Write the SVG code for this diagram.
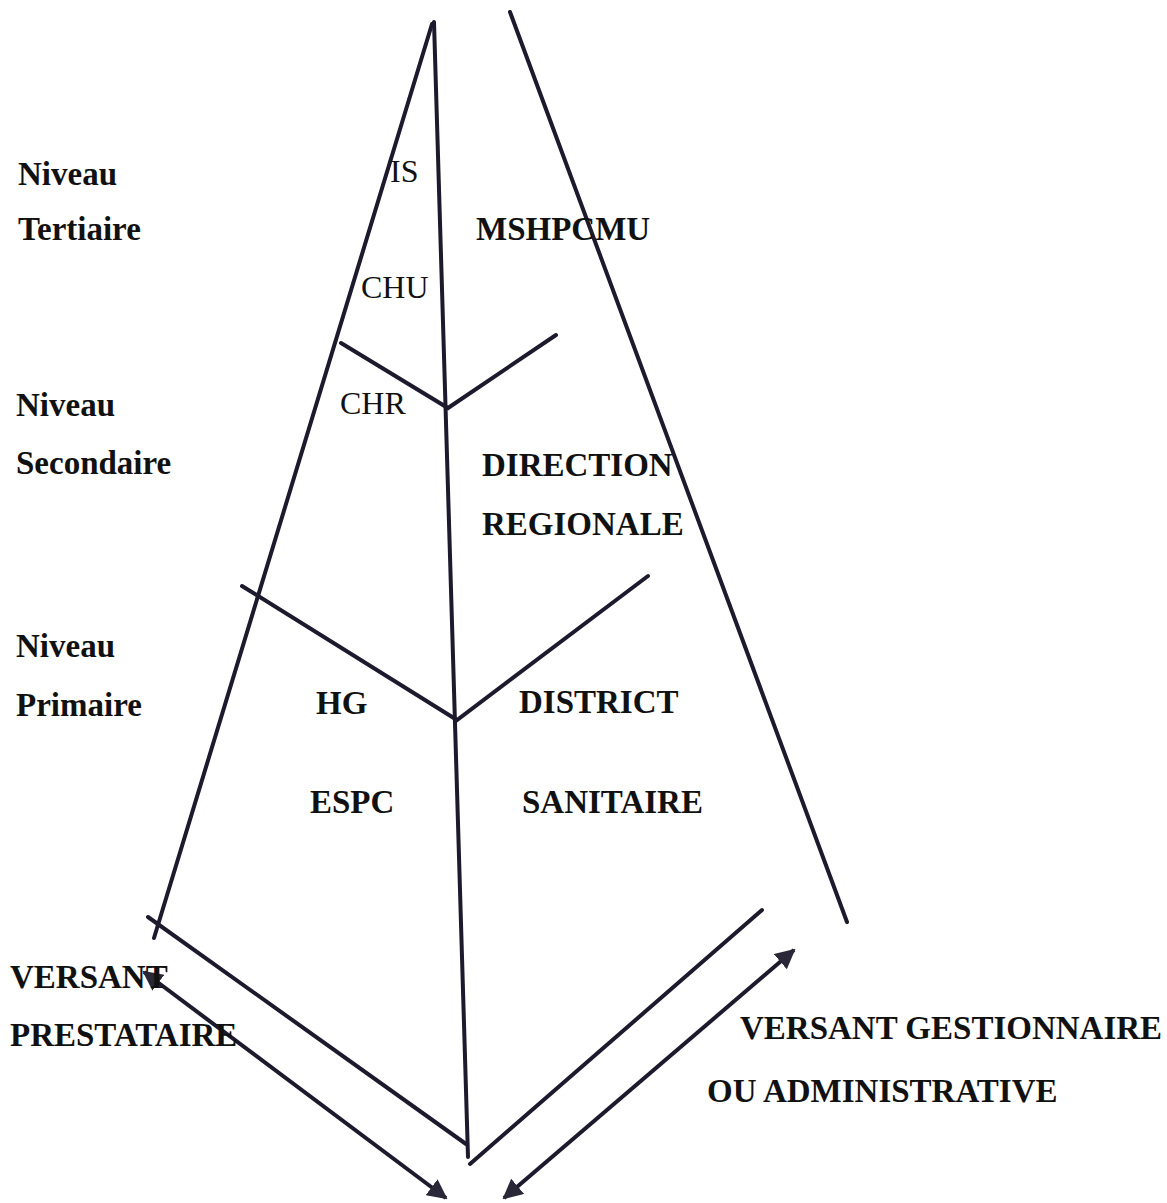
<svg xmlns="http://www.w3.org/2000/svg" width="1167" height="1203" viewBox="0 0 1167 1203">
<style>
.ln{stroke:#1c1a2c;stroke-width:4;fill:none;stroke-linecap:round}
.ar{stroke:#1c1a2c;stroke-width:4;fill:none}
.t{font-family:"Liberation Serif","Times New Roman",serif;font-size:32px;fill:#111}
.b{font-weight:bold;font-size:33px}
</style>
<defs>
<marker id="ah" viewBox="0 0 10 10" refX="9" refY="5" markerWidth="5" markerHeight="5" orient="auto-start-reverse" markerUnits="strokeWidth">
<path d="M0,0 L10,5 L0,10 z" fill="#2a2838"/>
</marker>
</defs>
<rect width="1167" height="1203" fill="#fff"/>
<g id="connectors">
<line class="ln" x1="432" y1="24" x2="154" y2="938"/>
<line class="ln" x1="434" y1="22" x2="468" y2="1157"/>
<line class="ln" x1="510" y1="12" x2="847" y2="922"/>
<polyline class="ln" points="341,343 448,408 556,335"/>
<polyline class="ln" points="242,586 457,720 648,576"/>
<line class="ln" x1="148" y1="917" x2="466" y2="1144"/>
<line class="ln" x1="470" y1="1164" x2="762" y2="910"/>
<line class="ar" x1="144" y1="972" x2="446" y2="1198" marker-start="url(#ah)" marker-end="url(#ah)"/>
<line class="ar" x1="504" y1="1198" x2="794" y2="950" marker-start="url(#ah)" marker-end="url(#ah)"/>
</g>
<g id="levels">
<text class="t b" x="18" y="185">Niveau</text>
<text class="t b" x="18" y="240">Tertiaire</text>
<text class="t b" x="16" y="416">Niveau</text>
<text class="t b" x="16" y="474">Secondaire</text>
<text class="t b" x="16" y="657">Niveau</text>
<text class="t b" x="16" y="716">Primaire</text>
</g>
<g id="n-is"><text class="t" x="390" y="182">IS</text></g>
<g id="n-chu"><text class="t" x="361" y="298">CHU</text></g>
<g id="n-chr"><text class="t" x="340" y="414">CHR</text></g>
<g id="n-mshpcmu"><text class="t b" x="476" y="240">MSHPCMU</text></g>
<g id="n-dr"><text class="t b" x="482" y="476">DIRECTION</text><text class="t b" x="482" y="535">REGIONALE</text></g>
<g id="n-hg"><text class="t b" x="316" y="714">HG</text></g>
<g id="n-espc"><text class="t b" x="310" y="813">ESPC</text></g>
<g id="n-ds"><text class="t b" x="519" y="713">DISTRICT</text><text class="t b" x="522" y="813">SANITAIRE</text></g>
<g id="n-vp"><text class="t b" x="10" y="988">VERSANT</text><text class="t b" x="10" y="1046">PRESTATAIRE</text></g>
<g id="n-vg"><text class="t b" x="740" y="1039">VERSANT GESTIONNAIRE</text><text class="t b" x="707" y="1102">OU ADMINISTRATIVE</text></g>
</svg>
